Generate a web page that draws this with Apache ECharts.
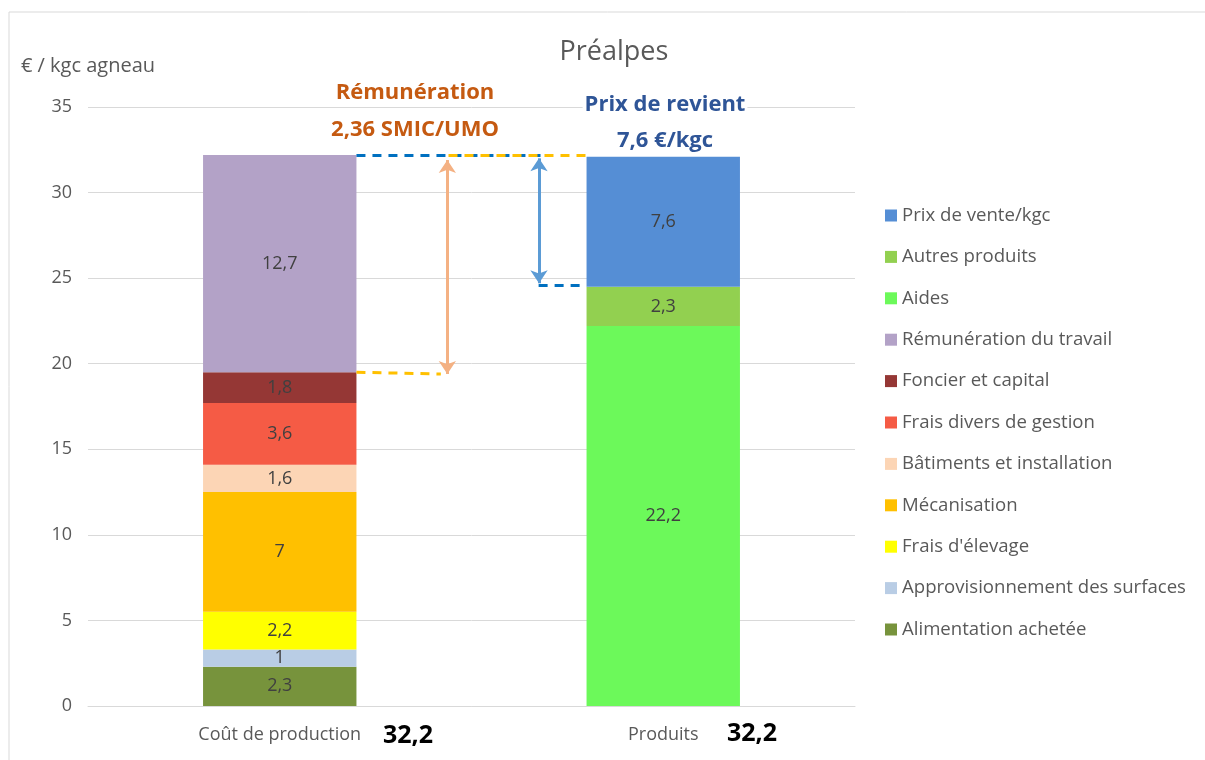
<!DOCTYPE html>
<html><head><meta charset="utf-8">
<script src="https://cdn.jsdelivr.net/npm/echarts@6/dist/echarts.min.js"></script>
<style>html,body{margin:0;padding:0;background:#fff}#c{width:1205px;height:760px}</style>
</head><body><div id="c"></div>
<script>
const categories = ['Coût de production', 'Produits'];
const totals = [32.2, 32.2];
const costNames = ['Alimentation achetée', 'Approvisionnement des surfaces', "Frais d'élevage", 'Mécanisation', 'Bâtiments et installation', 'Frais divers de gestion', 'Foncier et capital', 'Rémunération du travail'];
const costValues = [2.3, 1, 2.2, 7, 1.6, 3.6, 1.8, 12.7];
const productNames = ['Aides', 'Autres produits', 'Prix de vente/kgc'];
const productValues = [22.2, 2.3, 7.6];
const yTicks = [0, 5, 10, 15, 20, 25, 30, 35];
const costColors = ['#77933C', '#B9CDE5', '#FFFF00', '#FFC000', '#FCD5B5', '#F55B45', '#953735', '#B3A2C7'];
const productColors = ['#6CF95A', '#92D050', '#558ED5'];

const FONT = 'Open Sans';
const fmt = v => String(v).replace('.', ',');
const costTop = costValues.reduce((a, b) => a + b, 0);
const remunBottom = costTop - costValues[costValues.length - 1];
const prixBottom = costTop - productValues[productValues.length - 1];

const series = [];
const lbl = { show: true, formatter: p => fmt(p.value), color: '#404040', fontSize: 18, fontFamily: FONT };
costNames.forEach((n, i) => series.push({
  name: n, type: 'bar', stack: 't', barWidth: '40%',
  data: [costValues[i], null], itemStyle: { color: costColors[i] }, label: lbl
}));
productNames.forEach((n, i) => series.push({
  name: n, type: 'bar', stack: 't', barWidth: '40%',
  data: [null, productValues[i]], itemStyle: { color: productColors[i] }, label: lbl
}));

const dashBlue = { color: '#0070C0', width: 3, type: [9, 7], opacity: 1 };
const dashYellow = { color: '#FFC000', width: 3, type: [9, 7], opacity: 1 };
series.push({
  type: 'lines', coordinateSystem: 'cartesian2d', xAxisIndex: 1, yAxisIndex: 0, silent: true,
  symbol: ['none', 'none'], z: 5,
  data: [
    { coords: [[0.7, costTop], [1.18, costTop]], lineStyle: dashBlue },
    { coords: [[0.94, costTop], [1.3, costTop]], lineStyle: dashYellow },
    { coords: [[0.7, remunBottom], [0.92, remunBottom - 0.1]], lineStyle: dashYellow },
    { coords: [[1.175, prixBottom], [1.3, prixBottom]], lineStyle: dashBlue }
  ]
});
series.push({
  type: 'lines', coordinateSystem: 'cartesian2d', xAxisIndex: 1, yAxisIndex: 0, silent: true,
  symbol: ['arrow', 'arrow'], symbolSize: 13, z: 6,
  data: [
    { coords: [[0.937, costTop - 0.3], [0.937, remunBottom - 0.1]], lineStyle: { color: '#F4B183', width: 3, type: 'solid', opacity: 1 } },
    { coords: [[1.176, costTop - 0.2], [1.176, prixBottom + 0.1]], lineStyle: { color: '#5B9BD5', width: 3, type: 'solid', opacity: 1 } }
  ]
});

const legendOrder = productNames.slice().reverse().concat(costNames.slice().reverse());

const chart = echarts.init(document.getElementById('c'));
chart.setOption({
  animation: false,
  textStyle: { fontFamily: FONT },
  grid: { left: 88, right: 350, top: 107, bottom: 54 },
  legend: {
    data: legendOrder, orient: 'vertical', left: 880, top: 201,
    itemWidth: 12, itemHeight: 12, itemGap: 22.4, icon: 'rect',
    textStyle: { color: '#595959', fontSize: 18.6, fontFamily: FONT }
  },
  xAxis: [
    { type: 'category', data: categories,
      axisLine: { lineStyle: { color: '#D9D9D9' } }, axisTick: { show: false },
      axisLabel: { color: '#595959', fontSize: 18, margin: 20, fontFamily: FONT } },
    { type: 'value', min: 0, max: 2, show: false }
  ],
  yAxis: {
    type: 'value', min: 0, max: 35, interval: 5,
    name: '€ / kgc agneau', nameLocation: 'end', nameGap: 31,
    nameTextStyle: { color: '#595959', fontSize: 20, fontFamily: FONT, align: 'center' },
    axisLine: { show: false }, axisTick: { show: false },
    axisLabel: { color: '#595959', fontSize: 18, margin: 16, fontFamily: FONT,
      formatter: v => yTicks.includes(v) ? String(v) : '' },
    splitLine: { lineStyle: { color: '#D9D9D9' } }
  },
  graphic: [
    { type: 'rect', shape: { x: 9, y: 12, width: 1300, height: 900 }, style: { fill: 'none', stroke: '#D9D9D9', lineWidth: 1 }, silent: true },
    { type: 'text', x: 614, y: 52, style: { text: 'Préalpes', fill: '#595959', font: '27px ' + FONT, textAlign: 'center', textVerticalAlign: 'middle' } },
    { type: 'text', x: 415, y: 93, z: 10, style: { text: 'Rémunération', fill: '#C55A11', font: 'bold 22px ' + FONT, textAlign: 'center', textVerticalAlign: 'middle' } },
    { type: 'text', x: 415, y: 130, z: 10, style: { text: '2,36 SMIC/UMO', fill: '#C55A11', font: 'bold 22px ' + FONT, textAlign: 'center', textVerticalAlign: 'middle' } },
    { type: 'text', x: 665, y: 105, z: 10, style: { text: 'Prix de revient', fill: '#2F5597', font: 'bold 22px ' + FONT, textAlign: 'center', textVerticalAlign: 'middle', backgroundColor: '#fff', padding: [0, 2] } },
    { type: 'text', x: 665, y: 141, z: 10, style: { text: '7,6 €/kgc', fill: '#2F5597', font: 'bold 22px ' + FONT, textAlign: 'center', textVerticalAlign: 'middle' } },
    { type: 'text', x: 408, y: 736, style: { text: fmt(totals[0]), fill: '#000', font: 'bold 25px ' + FONT, textAlign: 'center', textVerticalAlign: 'middle' } },
    { type: 'text', x: 752, y: 734, style: { text: fmt(totals[1]), fill: '#000', font: 'bold 25px ' + FONT, textAlign: 'center', textVerticalAlign: 'middle' } }
  ],
  series: series
});
</script></body></html>
